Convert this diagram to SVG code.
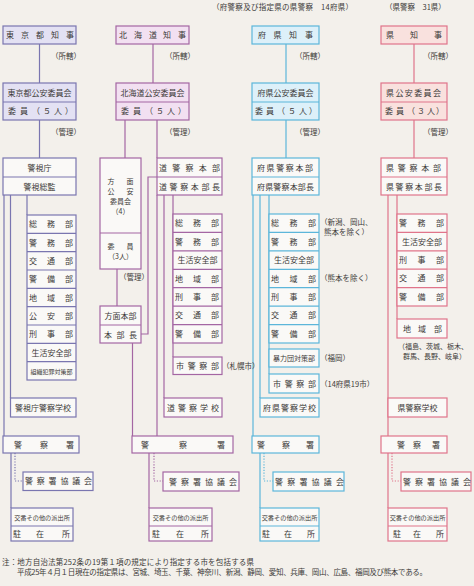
<svg xmlns="http://www.w3.org/2000/svg" width="474" height="586" viewBox="0 0 474 586">
<style>
text{font-family:"Noto Sans CJK JP","Noto Sans CJK SC",sans-serif;font-size:8px;fill:#3c3a38;text-anchor:middle}
.a{text-anchor:start;font-size:7.5px}
.sm{font-size:7px}
.kb{font-size:6.2px}
.xs{font-size:6px}
.hm{font-size:7px}
rect{stroke-width:1.2}
line,polyline{stroke-width:1.2;fill:none}
.b1{stroke:#7a76b0;fill:#faf9f7}.h1{fill:#e3e1f3}
.b2{stroke:#a466a3;fill:#faf9f7}.h2{fill:#f2e0f1}
.b3{stroke:#5cb6da;fill:#faf9f7}.h3{fill:#ddf0f9}
.b4{stroke:#e0748a;fill:#faf9f7}.h4{fill:#f9e1de}
.l1{stroke:#7a76b0}.l2{stroke:#a466a3}.l3{stroke:#5cb6da}.l4{stroke:#e0748a}
.d{stroke-dasharray:1.2 1.6}
</style>
<rect width="474" height="586" fill="#f3f0eb"/>
<text class="a" x="212" y="10" textLength="141">（府警察及び指定県の県警察　14府県）</text>
<text class="a" x="385" y="10">（県警察　31県）</text>

<g id="connectors">
<line class="l1" x1="39.5" y1="44" x2="39.5" y2="83"/>
<line class="l1" x1="39.5" y1="120" x2="39.5" y2="158"/>
<line class="l1" x1="4" y1="195" x2="4" y2="436"/>
<line class="l1" x1="10.5" y1="195" x2="10.5" y2="398"/>
<line class="l1" x1="27" y1="195" x2="27" y2="215"/>
<line class="l1" x1="11" y1="453" x2="11" y2="508"/>
<polyline class="l1 d" points="15,453 15,481 23,481"/>
<line class="l2" x1="153" y1="44" x2="153" y2="83"/>
<line class="l2" x1="125" y1="120" x2="125" y2="158"/>
<line class="l2" x1="157" y1="120" x2="157" y2="158"/>
<line class="l2" x1="117" y1="269" x2="117" y2="306"/>
<polyline class="l2" points="141,334 148,334 148,177 157,177"/>
<line class="l2" x1="132.5" y1="343" x2="132.5" y2="436"/>
<line class="l2" x1="157" y1="195" x2="157" y2="436"/>
<line class="l2" x1="164" y1="195" x2="164" y2="398"/>
<line class="l2" x1="173" y1="195" x2="173" y2="357"/>
<line class="l2" x1="149" y1="453" x2="149" y2="508"/>
<polyline class="l2 d" points="154,453 154,481 163,481"/>
<line class="l3" x1="286" y1="44" x2="286" y2="83"/>
<line class="l3" x1="286" y1="120" x2="286" y2="158"/>
<line class="l3" x1="253" y1="195" x2="253" y2="436"/>
<line class="l3" x1="260" y1="195" x2="260" y2="398"/>
<line class="l3" x1="269" y1="195" x2="269" y2="374"/>
<line class="l3" x1="260" y1="453" x2="260" y2="508"/>
<polyline class="l3 d" points="264,453 264,481 273,481"/>
<line class="l4" x1="414" y1="44" x2="414" y2="83"/>
<line class="l4" x1="414" y1="120" x2="414" y2="158"/>
<line class="l4" x1="388" y1="195" x2="388" y2="436"/>
<line class="l4" x1="397" y1="195" x2="397" y2="319"/>
<line class="l4" x1="388" y1="453" x2="388" y2="508"/>
<polyline class="l4 d" points="392,453 392,481 401,481"/>
</g>

<text class="a" x="51" y="59">（所轄）</text>
<text class="a" x="51" y="135">（管理）</text>
<text class="a" x="165" y="59">（所轄）</text>
<text class="a" x="165" y="135">（管理）</text>
<text class="a" x="119" y="280">（管理）</text>
<text class="a" x="295" y="59">（所轄）</text>
<text class="a" x="295" y="135">（管理）</text>
<text class="a" x="423" y="59">（所轄）</text>
<text class="a" x="423" y="135">（管理）</text>

<g id="tokyo-governor"><rect class="b1 h1" x="3" y="26" width="73" height="18"/><text x="10 25 40 55 70" y="38">東京都知事</text></g>
<g id="tokyo-psc"><rect class="b1 h1" x="3" y="83" width="73" height="37"/><line class="l1" x1="3" y1="102" x2="76" y2="102"/><text x="39.5" y="96">東京都公安委員会</text><text x="12 24 36 47 58 69" y="114">委員（５人）</text></g>
<g id="mpd"><rect class="b1" x="3" y="158" width="73" height="37"/><line class="l1" x1="3" y1="177" x2="76" y2="177"/><text x="39.5" y="171">警視庁</text><text x="39.5" y="189.5">警視総監</text></g>
<g id="mpd-depts"><rect class="b1" x="27" y="215" width="49" height="165"/>
<line class="l1" x1="27" y1="233.3" x2="76" y2="233.3"/><line class="l1" x1="27" y1="251.7" x2="76" y2="251.7"/><line class="l1" x1="27" y1="270" x2="76" y2="270"/><line class="l1" x1="27" y1="288.3" x2="76" y2="288.3"/><line class="l1" x1="27" y1="306.7" x2="76" y2="306.7"/><line class="l1" x1="27" y1="325" x2="76" y2="325"/><line class="l1" x1="27" y1="343.3" x2="76" y2="343.3"/><line class="l1" x1="27" y1="361.7" x2="76" y2="361.7"/>
<text x="33 51 69" y="227.3">総務部</text><text x="33 51 69" y="245.6">警務部</text><text x="33 51 69" y="264">交通部</text><text x="33 51 69" y="282.3">警備部</text><text x="33 51 69" y="300.6">地域部</text><text x="33 51 69" y="319">公安部</text><text x="33 51 69" y="337.3">刑事部</text><text x="51.5" y="355.6">生活安全部</text><text class="xs" x="51.5" y="373.5">組織犯罪対策部</text></g>
<g id="mpd-school"><rect class="b1" x="10.5" y="398" width="65.5" height="19"/><text x="43" y="410.5">警視庁警察学校</text></g>
<g id="tokyo-station"><rect class="b1" x="3" y="436" width="76" height="17"/><text x="18 44 70" y="447.5">警察署</text></g>
<g id="tokyo-council"><rect class="b1" x="23" y="472" width="70" height="18.5"/><text x="29 40.8 52.6 64.4 76.2 88" y="484.3">警察署協議会</text></g>
<g id="tokyo-koban"><rect class="b1" x="11" y="508" width="62" height="33"/><line class="l1" x1="11" y1="526" x2="73" y2="526"/><text class="kb" x="42" y="519.5">交番その他の派出所</text><text x="17 40 66" y="537">駐在所</text></g>

<g id="hokkaido-governor"><rect class="b2 h2" x="116" y="26" width="73" height="18"/><text x="123 138 153 167 182" y="38">北海道知事</text></g>
<g id="hokkaido-psc"><rect class="b2 h2" x="116" y="83" width="73" height="37"/><line class="l2" x1="116" y1="102" x2="189" y2="102"/><text x="152.5" y="96">北海道公安委員会</text><text x="125 137 149 160 171 182" y="114">委員（５人）</text></g>
<g id="homen-psc"><rect class="b2" x="100" y="158" width="41" height="111"/><line class="l2" x1="100" y1="233" x2="141" y2="233"/>
<text class="hm" x="111 130" y="184">方面</text><text class="hm" x="111 130" y="194">公安</text><text class="hm" x="120.5" y="204">委員会</text><text class="hm" x="120.5" y="214">（4）</text>
<text class="hm" x="111 130" y="249">委員</text><text class="hm" x="120.5" y="259">（3人）</text></g>
<g id="homen-hq"><rect class="b2" x="100" y="306" width="41" height="37"/><line class="l2" x1="100" y1="325" x2="141" y2="325"/><text x="120.5" y="319">方面本部</text><text x="108 120.5 133" y="337.5">本部長</text></g>
<g id="hokkaido-hq"><rect class="b2" x="157" y="158" width="65" height="37"/><line class="l2" x1="157" y1="177" x2="222" y2="177"/><text x="163 176.3 189.5 202.8 216" y="171">道警察本部</text><text x="163 173.6 184.2 194.8 205.4 216" y="189.5">道警察本部長</text></g>
<g id="hokkaido-depts"><rect class="b2" x="173" y="214" width="49" height="129"/>
<line class="l2" x1="173" y1="232.4" x2="222" y2="232.4"/><line class="l2" x1="173" y1="250.9" x2="222" y2="250.9"/><line class="l2" x1="173" y1="269.3" x2="222" y2="269.3"/><line class="l2" x1="173" y1="287.7" x2="222" y2="287.7"/><line class="l2" x1="173" y1="306.1" x2="222" y2="306.1"/><line class="l2" x1="173" y1="324.6" x2="222" y2="324.6"/>
<text x="179 197 215" y="226.2">総務部</text><text x="179 197 215" y="244.6">警務部</text><text x="197.5" y="263.1">生活安全部</text><text x="179 197 215" y="281.5">地域部</text><text x="179 197 215" y="299.9">刑事部</text><text x="179 197 215" y="318.3">交通部</text><text x="179 197 215" y="336.8">警備部</text></g>
<g id="sapporo"><rect class="b2" x="173" y="357" width="49" height="17.5"/><text x="180 191.7 203.3 215" y="368.8">市警察部</text><text class="a" x="222" y="369">（札幌市）</text></g>
<g id="hokkaido-school"><rect class="b2" x="164" y="398" width="58" height="19"/><text x="171 182 193 204 215" y="410.5">道警察学校</text></g>
<g id="hokkaido-station"><rect class="b2" x="132" y="436" width="101" height="17"/><text x="145 183 221" y="447.5">警察署</text></g>
<g id="hokkaido-council"><rect class="b2" x="163" y="472" width="76" height="19"/><text x="173 185 197 209 221 233" y="484.5">警察署協議会</text></g>
<g id="hokkaido-koban"><rect class="b2" x="149" y="508" width="63" height="33"/><line class="l2" x1="149" y1="526" x2="212" y2="526"/><text class="kb" x="180.5" y="519.5">交番その他の派出所</text><text x="156 180 205" y="537">駐在所</text></g>

<g id="fuken-governor"><rect class="b3 h3" x="252" y="26" width="67" height="18"/><text x="262 277.5 293 309" y="38">府県知事</text></g>
<g id="fuken-psc"><rect class="b3 h3" x="252" y="83" width="67" height="37"/><line class="l3" x1="252" y1="102" x2="319" y2="102"/><text x="285.5" y="96">府県公安委員会</text><text x="259 270 281 292 303 313" y="114">委員（５人）</text></g>
<g id="fuken-hq"><rect class="b3" x="252" y="158" width="67" height="37"/><line class="l3" x1="252" y1="177" x2="319" y2="177"/><text x="261 270.6 280.2 289.8 299.4 309" y="171">府県警察本部</text><text x="261 269.2 277.3 285.5 293.7 301.8 310" y="189.5">府県警察本部長</text></g>
<g id="fuken-depts"><rect class="b3" x="269" y="214" width="50" height="129"/>
<line class="l3" x1="269" y1="232.4" x2="319" y2="232.4"/><line class="l3" x1="269" y1="250.9" x2="319" y2="250.9"/><line class="l3" x1="269" y1="269.3" x2="319" y2="269.3"/><line class="l3" x1="269" y1="287.7" x2="319" y2="287.7"/><line class="l3" x1="269" y1="306.1" x2="319" y2="306.1"/><line class="l3" x1="269" y1="324.6" x2="319" y2="324.6"/>
<text x="275 293.5 312" y="226.2">総務部</text><text x="275 293.5 312" y="244.6">警務部</text><text x="294" y="263.1">生活安全部</text><text x="275 293.5 312" y="281.5">地域部</text><text x="275 293.5 312" y="299.9">刑事部</text><text x="275 293.5 312" y="318.3">交通部</text><text x="275 293.5 312" y="336.8">警備部</text></g>
<text class="a" x="320" y="225">（新潟、岡山、</text>
<text class="a" x="324" y="235">熊本を除く）</text>
<text class="a" x="320" y="281">（熊本を除く）</text>
<g id="boryokudan"><rect class="b3" x="269" y="349" width="50" height="18"/><text class="sm" x="294" y="360.8">暴力団対策部</text><text class="a" x="320" y="361">（福岡）</text></g>
<g id="fuken-city"><rect class="b3" x="269" y="374" width="50" height="19"/><text x="277 288.7 300.3 312" y="386.5">市警察部</text><text class="a" x="320" y="387">（14府県19市）</text></g>
<g id="fuken-school"><rect class="b3" x="260" y="398" width="59" height="19"/><text x="267 276 285 294 303 312" y="410.5">府県警察学校</text></g>
<g id="fuken-station"><rect class="b3" x="252" y="436" width="67" height="17"/><text x="261 286 310" y="447.5">警察署</text></g>
<g id="fuken-council"><rect class="b3" x="273" y="472" width="71" height="19"/><text x="279 291.2 303.4 315.6 327.8 340" y="484.5">警察署協議会</text></g>
<g id="fuken-koban"><rect class="b3" x="260" y="508" width="59" height="33"/><line class="l3" x1="260" y1="526" x2="319" y2="526"/><text class="kb" x="289.5" y="519.5">交番その他の派出所</text><text x="266 288 311" y="537">駐在所</text></g>

<g id="ken-governor"><rect class="b4 h4" x="381" y="26" width="66" height="18"/><text x="390 414 438" y="38">県知事</text></g>
<g id="ken-psc"><rect class="b4 h4" x="381" y="83" width="66" height="37"/><line class="l4" x1="381" y1="102" x2="447" y2="102"/><text x="390 399.4 408.8 418.2 427.6 437" y="96">県公安委員会</text><text x="389 400 411 421 431 440" y="114">委員（３人）</text></g>
<g id="ken-hq"><rect class="b4" x="381" y="158" width="66" height="37"/><line class="l4" x1="381" y1="177" x2="447" y2="177"/><text x="390 401.75 413.5 425.25 437" y="171">県警察本部</text><text x="390 399.6 409.2 418.8 428.4 438" y="189.5">県警察本部長</text></g>
<g id="ken-depts"><rect class="b4" x="397" y="214" width="50" height="92"/>
<line class="l4" x1="397" y1="232.4" x2="447" y2="232.4"/><line class="l4" x1="397" y1="250.8" x2="447" y2="250.8"/><line class="l4" x1="397" y1="269.2" x2="447" y2="269.2"/><line class="l4" x1="397" y1="287.6" x2="447" y2="287.6"/>
<text x="403 421.5 440" y="226.2">警務部</text><text x="422" y="244.6">生活安全部</text><text x="403 421.5 440" y="263">刑事部</text><text x="403 421.5 440" y="281.4">交通部</text><text x="403 421.5 440" y="299.8">警備部</text></g>
<g id="ken-chiiki"><rect class="b4" x="397" y="319" width="50" height="19"/><text x="407 422 438" y="331.5">地域部</text></g>
<text class="a hm" x="398" y="349">（福島、茨城、栃木、</text>
<text class="a hm" x="403" y="359">群馬、長野、岐阜）</text>
<g id="ken-school"><rect class="b4" x="388" y="398" width="59" height="19"/><text x="417.5" y="410.5">県警察学校</text></g>
<g id="ken-station"><rect class="b4" x="381" y="436" width="66" height="17"/><text x="401 417 436" y="447.5">警察署</text></g>
<g id="ken-council"><rect class="b4" x="401" y="472" width="70" height="19"/><text x="407 419 431 443 455 467" y="484.5">警察署協議会</text></g>
<g id="ken-koban"><rect class="b4" x="388" y="508" width="59" height="33"/><line class="l4" x1="388" y1="526" x2="447" y2="526"/><text class="kb" x="417.5" y="519.5">交番その他の派出所</text><text x="397 417 440" y="537">駐在所</text></g>

<text class="a" x="2" y="565" textLength="252">注：地方自治法第252条の19第１項の規定により指定する市を包括する県</text>
<text class="a" x="17" y="575" textLength="410">平成25年４月１日現在の指定県は、宮城、埼玉、千葉、神奈川、新潟、静岡、愛知、兵庫、岡山、広島、福岡及び熊本である。</text>
</svg>
